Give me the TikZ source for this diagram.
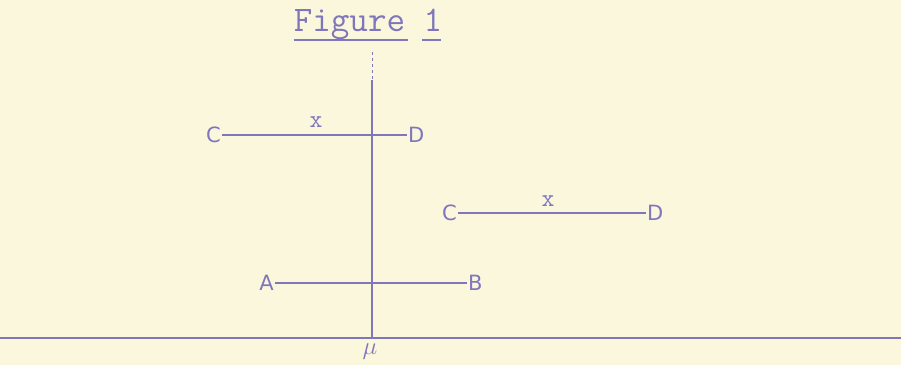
\documentclass[tikz,border=0pt]{standalone}
\usepackage{fontspec}
\setsansfont{DejaVu Sans}
\begin{document}
\begin{tikzpicture}[x=1pt,y=-1pt,
  ink/.style={draw=inkc, line width=1.1pt},
  uline/.style={draw=inkc, line width=1.8pt},
  lbl/.style={text=inkc, font=\sffamily\fontsize{21}{21}\selectfont, inner sep=1pt},
  xlbl/.style={text=inkc, font=\ttfamily\fontsize{25}{25}\selectfont, inner sep=0pt}]
\definecolor{inkc}{HTML}{7F76BC}
\definecolor{paper}{HTML}{FBF7DD}
\fill[paper] (0,0) rectangle (901,365);
\useasboundingbox (0,0) rectangle (901,365);
% title
\node[text=inkc, font=\ttfamily\fontsize{36}{36}\selectfont, inner sep=0pt, anchor=base] (title) at (368,31) {Figure 1};
\draw[uline] ([yshift=-9pt]title.base west) -- ++(114,0);
\draw[uline] ([yshift=-9pt]title.base east) ++(-20,0) -- ++(19,0);
% baseline
\coordinate (bl) at (0,338);
\coordinate (br) at (901,338);
\draw[ink] (bl) -- (br);
% vertical line
\coordinate (vtop) at (372,52);
\coordinate (vmid) at (372,80);
\coordinate (vbot) at (372,338);
\draw[ink, dashed, line width=0.7pt] (vtop) -- (vmid);
\draw[ink] (vmid) -- (vbot);
\node[text=inkc, font=\fontsize{26}{26}\selectfont] (mu) at (370,352) {$\mu$};
% top CD
\node[lbl, anchor=east] (c1) at (222,135) {C};
\node[lbl, anchor=west] (d1) at (407,135) {D};
\draw[ink] (c1.east) -- (d1.west);
\node[xlbl, anchor=base] (x1) at (316,127) {x};
% right CD
\node[lbl, anchor=east] (c2) at (458,213) {C};
\node[lbl, anchor=west] (d2) at (646,213) {D};
\draw[ink] (c2.east) -- (d2.west);
\node[xlbl, anchor=base] (x2) at (548,206) {x};
% AB
\node[lbl, anchor=east] (a) at (275,283) {A};
\node[lbl, anchor=west] (b) at (467,283) {B};
\draw[ink] (a.east) -- (b.west);
\end{tikzpicture}
\end{document}
